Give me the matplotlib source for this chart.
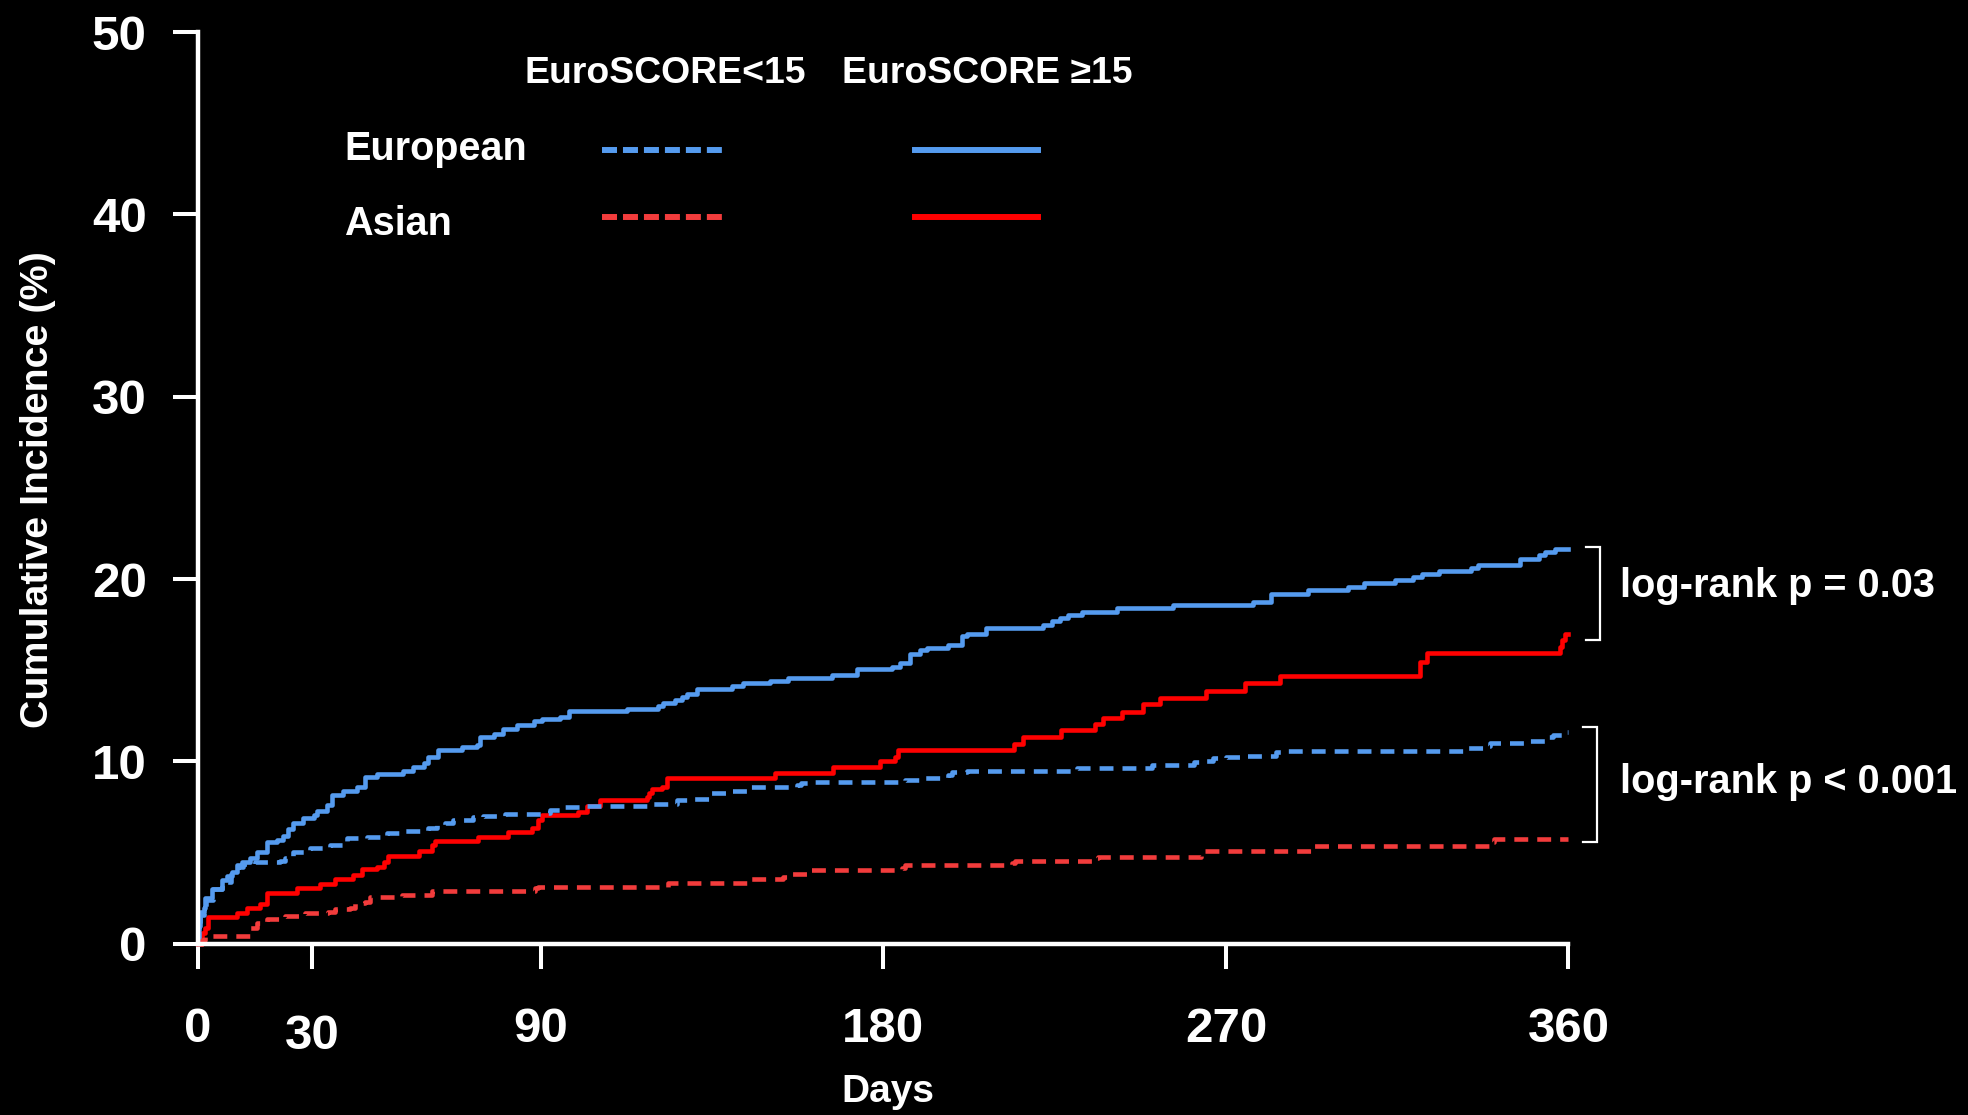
import matplotlib
matplotlib.use("Agg")
import matplotlib.pyplot as plt
from matplotlib.transforms import ScaledTranslation
from matplotlib.lines import Line2D

plt.rcParams['font.family'] = ['Liberation Sans', 'DejaVu Sans']
plt.rcParams['font.weight'] = 'bold'
plt.rcParams['lines.scale_dashes'] = False

# Cumulative incidence step curves (day of event, cumulative % after the step)
eur_high_days = [0, 0.3, 0.6, 1.4, 1.8, 3.6, 6.2, 7.5, 8.8, 10.1, 11.4, 13.6, 15.4, 18.0, 20.6,
                 22.4, 23.7, 25.0, 27.6, 30.3, 31.2, 33.8, 35.1, 38.1, 41.6, 43.8, 46.9, 53.9,
                 56.5, 59.2, 60.5, 63.1, 69.2, 73.2, 74.1, 77.6, 80.2, 83.7, 88.1, 90.3, 95.1,
                 97.3, 112.6, 120.9, 122.2, 125.3, 127.0, 128.3, 131.0, 140.2, 143.2, 150.2,
                 155.0, 166.4, 173.0, 182.2, 184.4, 187.0, 189.6, 191.4, 197.1, 200.6, 201.9,
                 207.1, 222.0, 224.4, 226.5, 228.4, 232.3, 241.3, 256.0, 277.2, 281.8, 291.5,
                 302.1, 306.2, 314.5, 319.1, 321.4, 326.0, 334.3, 336.2, 347.2, 352.3, 353.7,
                 356.4, 360]
eur_high_vals = [0, 1.0, 1.75, 1.94, 2.5, 3.0, 3.5, 3.7, 3.95, 4.3, 4.5, 4.7, 5.05, 5.6, 5.7,
                 5.9, 6.3, 6.6, 6.9, 7.05, 7.3, 7.6, 8.15, 8.4, 8.6, 9.15, 9.3, 9.45,
                 9.7, 9.9, 10.25, 10.6, 10.8, 10.9, 11.35, 11.5, 11.8, 12.0, 12.2, 12.3, 12.45,
                 12.75, 12.9, 13.03, 13.2, 13.36, 13.55, 13.7, 13.97, 14.13, 14.3, 14.42,
                 14.6, 14.73, 15.05, 15.2, 15.4, 15.9, 16.1, 16.23, 16.4, 16.85, 17.0,
                 17.33, 17.5, 17.7, 17.88, 18.02, 18.18, 18.39, 18.56, 18.72, 19.2, 19.4,
                 19.57, 19.76, 19.95, 20.13, 20.3, 20.46, 20.62, 20.77, 21.1, 21.32, 21.5,
                 21.63, 21.63]

asia_high_days = [0, 0.9, 1.8, 2.7, 10.1, 12.8, 16.3, 18.0, 25.9, 32.0, 36.0, 40.8, 43.0, 46.9,
                  48.7, 50.0, 57.9, 61.4, 62.2, 73.6, 81.5, 87.6, 89.4, 90.3, 99.9, 102.1,
                  105.6, 117.8, 118.5, 119.1, 121.8, 123.1, 151.5, 166.9, 179.1, 183.1, 183.9,
                  214.2, 216.8, 226.8, 235.7, 237.6, 242.7, 248.2, 252.8, 264.8, 274.9, 284.1,
                  321.0, 322.8, 357.8, 358.3, 359.2, 360]
asia_high_vals = [0, 0.57, 0.84, 1.48, 1.66, 1.94, 2.2, 2.76, 3.03, 3.3, 3.53, 3.77, 4.08, 4.2,
                  4.5, 4.83, 5.1, 5.41, 5.65, 5.83, 6.14, 6.33, 6.78, 7.06, 7.24, 7.55,
                  7.88, 8.06, 8.25, 8.46, 8.61, 9.07, 9.38, 9.67, 10.02, 10.26, 10.62,
                  10.93, 11.32, 11.7, 12.05, 12.36, 12.72, 13.14, 13.46, 13.88, 14.28, 14.68,
                  15.47, 15.92, 16.3, 16.65, 16.97, 16.97]

eur_low_days = [0, 0.3, 0.6, 1.5, 2.0, 4.0, 6.2, 8.5, 10.5, 11.9, 15.0, 21.5, 22.8, 25.0, 29.4,
                34.6, 39.0, 44.3, 49.6, 54.4, 60.5, 62.7, 64.9, 67.0, 72.3, 74.9, 80.6, 91.1,
                92.5, 96.4, 102.1, 119.6, 125.7, 130.1, 134.5, 139.7, 145.0, 157.2, 158.5,
                161.6, 185.7, 191.0, 197.0, 198.0, 201.9, 230.8, 250.5, 261.5, 264.3, 266.6,
                270.0, 275.0, 283.2, 285.0, 333.4, 338.5, 339.4, 348.6, 353.7, 356.0, 358.8, 360]
eur_low_vals = [0, 0.9, 1.6, 2.0, 2.4, 3.0, 3.4, 3.8, 4.2, 4.4, 4.46, 4.55, 4.68, 5.05, 5.23,
                5.41, 5.78, 5.87, 6.05, 6.18, 6.33, 6.51, 6.64, 6.78, 6.97, 7.02, 7.09, 7.18,
                7.33, 7.48, 7.55, 7.66, 7.88, 7.93, 8.25, 8.39, 8.61, 8.7, 8.79,
                8.85, 8.98, 9.1, 9.25, 9.43, 9.49, 9.62, 9.8, 9.94, 10.04, 10.16,
                10.22, 10.31, 10.49, 10.57, 10.71, 10.84, 10.99, 11.13, 11.35, 11.44, 11.59, 11.59]

asia_low_days = [0, 0.9, 1.8, 13.6, 15.4, 18.0, 22.8, 28.1, 34.2, 36.0, 39.9, 41.2, 43.8, 45.2,
                 53.5, 61.4, 88.5, 89.4, 123.5, 145.0, 153.7, 156.0, 160.7, 184.8, 185.7,
                 213.7, 214.6, 235.7, 236.5, 263.4, 292.4, 339.4, 340.3, 360]
asia_low_vals = [0, 0.2, 0.42, 0.84, 1.12, 1.35, 1.52, 1.70, 1.75, 1.9, 1.94, 2.21, 2.3, 2.55,
                 2.65, 2.9, 3.03, 3.13, 3.35, 3.55, 3.67, 3.82, 4.04, 4.13, 4.3,
                 4.41, 4.55, 4.68, 4.77, 5.08, 5.37, 5.59, 5.72, 5.72]

x_ticks = [0, 30, 90, 180, 270, 360]
y_ticks = [0, 10, 20, 30, 40, 50]
col_headers = ["EuroSCORE<15", "EuroSCORE \u226515"]
row_labels = ["European", "Asian"]
pvalue_texts = ["log-rank p = 0.03", "log-rank p < 0.001"]
# y-extent of each comparison bracket (%)
bracket_ranges = [(16.66, 21.78), (5.6, 11.9)]

BLUE = '#559BEF'
RED = '#FF0000'
RED_DASH = '#F23C3C'
DASH = (0, (10, 6.5))

fig = plt.figure(figsize=(19.68, 11.15), dpi=100, facecolor='black')
ax = fig.add_axes([0.1007, 0.1536, 0.6963, 0.8177], facecolor='black')

lw = 3.3
ax.step(eur_high_days, eur_high_vals, where='post', color=BLUE, lw=lw, clip_on=False)
ax.step(asia_high_days, asia_high_vals, where='post', color=RED, lw=lw, clip_on=False)
ax.step(eur_low_days, eur_low_vals, where='post', color=BLUE, lw=lw, ls=DASH, clip_on=False)
ax.step(asia_low_days, asia_low_vals, where='post', color=RED_DASH, lw=lw, ls=DASH, clip_on=False)

ax.set_xlim(0, 360)
ax.set_ylim(0, 50)
for s in ['top', 'right']:
    ax.spines[s].set_visible(False)
for s in ['left', 'bottom']:
    ax.spines[s].set_color('white')
    ax.spines[s].set_linewidth(3.2)
    ax.spines[s].set_capstyle('projecting')

ax.set_xticks(x_ticks)
ax.set_yticks(y_ticks)
ax.set_xticklabels([str(v) for v in x_ticks])
ax.set_yticklabels([str(v) for v in y_ticks])
ax.tick_params(axis='both', colors='white', length=18, width=2.9, labelsize=35.5)
ax.tick_params(axis='y', pad=19)
ax.tick_params(axis='x', pad=27.5)
for lab in ax.get_xticklabels() + ax.get_yticklabels():
    lab.set_fontweight('bold')

# the "30" label sits slightly lower than the rest
lab30 = ax.get_xticklabels()[1]
lab30.set_transform(lab30.get_transform() + ScaledTranslation(0, -0.07, fig.dpi_scale_trans))

ax.set_ylabel("Cumulative Incidence (%)", color='white', fontsize=28.4, fontweight='bold')
ax.yaxis.set_label_coords(-0.1036, 0.498)
ax.set_xlabel("Days", color='white', fontsize=28, fontweight='bold')
ax.xaxis.set_label_coords(0.503, -0.1425)

# comparison brackets and log-rank annotations
bracket_x = [(364.6, 368.4), (363.8, 367.6)]
text_y = [19.02, 8.28]
for (lo, hi), (x0, x1), txt, ty in zip(bracket_ranges, bracket_x, pvalue_texts, text_y):
    ax.plot([x0, x1, x1, x0], [hi, hi, lo, lo], color='white', lw=1.6, clip_on=False,
            solid_joinstyle='miter')
    ax.text(373.4, ty, txt, color='white', fontsize=28.6, fontweight='bold',
            ha='left', va='baseline', clip_on=False)

# legend grid: column headers, row labels and line samples
fig.text(0.2663, 0.9256, col_headers[0], color='white', fontsize=26.9, fontweight='bold',
         ha='left', va='baseline')
fig.text(0.4278, 0.9256, col_headers[1], color='white', fontsize=26.9, fontweight='bold',
         ha='left', va='baseline')
fig.text(0.1748, 0.8565, row_labels[0], color='white', fontsize=28.5, fontweight='bold',
         ha='left', va='baseline')
fig.text(0.1748, 0.7892, row_labels[1], color='white', fontsize=28.5, fontweight='bold',
         ha='left', va='baseline')

H = 1115.0
W = 1968.0
leg_rows = [(150, BLUE, BLUE), (217, RED_DASH, RED)]
for ypx, c_dash, c_solid in leg_rows:
    yf = 1 - ypx / H
    fig.add_artist(Line2D([602 / W, 724 / W], [yf, yf], color=c_dash, lw=4.3,
                          ls=(0, (10.8, 4.3)), transform=fig.transFigure))
    fig.add_artist(Line2D([915 / W, 1038 / W], [yf, yf], color=c_solid, lw=4.3,
                          transform=fig.transFigure))

fig.savefig("out.png", dpi=100, facecolor='black')
